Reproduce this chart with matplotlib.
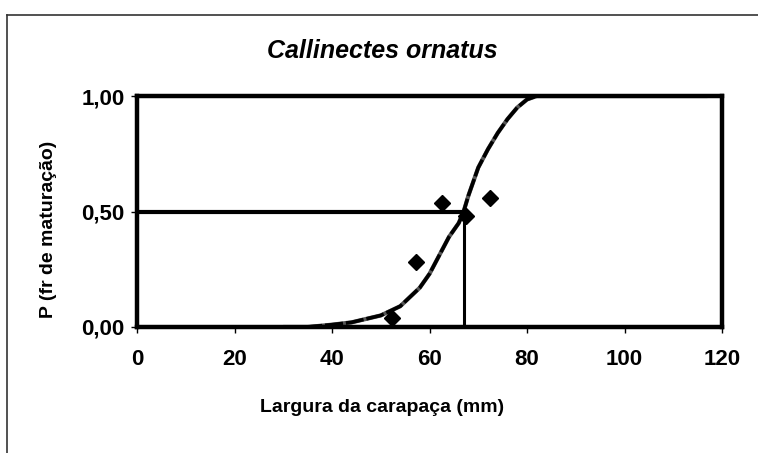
import matplotlib
matplotlib.use("Agg")
import matplotlib.pyplot as plt
from matplotlib.lines import Line2D

plt.rcParams['font.family'] = ['Liberation Sans', 'DejaVu Sans']

# observed maturity fractions
obs_x = [52.4, 57.3, 62.5, 67.4, 72.5]
obs_y = [0.04, 0.28, 0.535, 0.48, 0.56]

# fitted curve
curve_x = [30, 35, 40, 44, 48, 50, 52, 54, 56, 58, 60, 62, 64, 66, 67, 68,
           70, 72, 74, 76, 78, 80, 82, 90, 100, 110, 117]
curve_y = [0.0, 0.0, 0.01, 0.02, 0.04, 0.05, 0.07, 0.09, 0.13, 0.17, 0.23,
           0.31, 0.39, 0.45, 0.50, 0.57, 0.69, 0.77, 0.84, 0.90, 0.95, 0.985,
           1.0, 1.0, 1.0, 1.0, 1.0]

l50 = 67.0
p50 = 0.5

x_ticks = [0, 20, 40, 60, 80, 100, 120]
y_ticks = [0.0, 0.5, 1.0]
y_labels = ['0,00', '0,50', '1,00']

fig = plt.figure(figsize=(7.58, 4.53), dpi=100)
ax = fig.add_axes([137/758, 1-327/453, 585/758, 231/453])

ax.plot(curve_x, curve_y, color='#555555', lw=3.0, solid_capstyle='butt', zorder=2)
ax.plot(curve_x, curve_y, color='black', lw=2.6, linestyle=(0, (5, 0.8)), zorder=3)
ax.plot([0, l50], [p50, p50], color='black', lw=3, solid_capstyle='butt', zorder=4)
ax.plot([l50, l50], [0, p50], color='black', lw=2.2, solid_capstyle='butt', zorder=4)
ax.plot(obs_x, obs_y, 'D', color='black', markersize=8.5, zorder=5)

ax.set_xlim(0, 120)
ax.set_ylim(0, 1)
ax.set_xticks(x_ticks)
ax.set_yticks(y_ticks)
ax.set_yticklabels(y_labels)
for s in ax.spines.values():
    s.set_linewidth(3.2)
ax.tick_params(direction='out', length=4, width=1, labelsize=16)
ax.tick_params(axis='x', pad=12)
ax.tick_params(axis='y', pad=5)
for lab in ax.get_xticklabels() + ax.get_yticklabels():
    lab.set_fontweight('bold')

fig.text(382/758, 1-51/453, 'Callinectes ornatus', ha='center', va='center',
         fontsize=18, fontweight='bold', fontstyle='italic')
fig.text(382/758, 1-408/453, 'Largura da carapaça (mm)', ha='center', va='center',
         fontsize=14, fontweight='bold')
fig.text(49/758, 1-229/453, 'P (fr de maturação)', ha='center', va='center',
         rotation=90, fontsize=14, fontweight='bold')

# outer chart frame (cut off at right and bottom)
fig.add_artist(Line2D([7/758, 7/758], [0, 1-15/453], color='#333333', lw=1.2,
                      transform=fig.transFigure))
fig.add_artist(Line2D([7/758, 1], [1-15/453, 1-15/453], color='#333333', lw=1.2,
                      transform=fig.transFigure))

fig.savefig('out.png', dpi=100)
